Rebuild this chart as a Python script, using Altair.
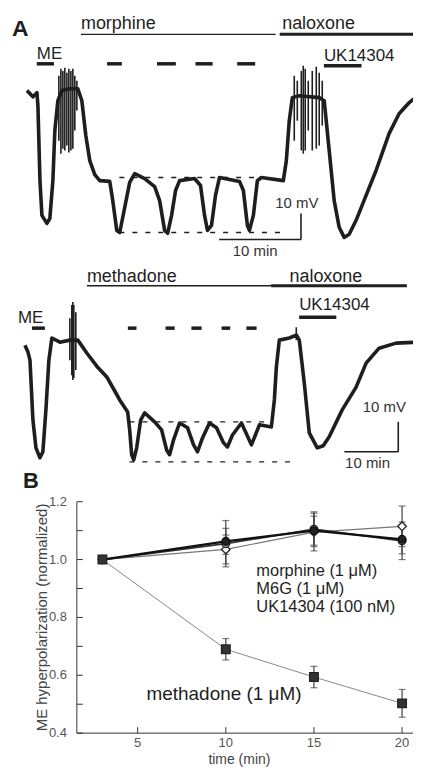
import altair as alt
import pandas as pd

FONT = "Liberation Sans"
INK = "#1e1e1e"

# ================= Panel A, upper trace (morphine), time in min, potential in mV =================
tr1_time = [0.0, 0.73, 1.22, 1.34, 1.59, 1.83, 2.44, 2.80, 3.17, 3.41, 3.78, 4.27, 5.24, 6.22, 6.71,
            7.20, 7.68, 8.29, 8.90, 10.12, 10.49, 10.98, 11.34, 11.83, 12.56, 13.17, 14.39, 15.61,
            16.22, 16.83, 17.20, 17.68, 18.17, 18.66, 20.49, 21.22, 21.71, 22.07, 22.56, 23.05, 23.54,
            25.98, 26.46, 26.95, 27.20, 27.68, 28.17, 28.66, 31.34, 31.71, 32.07, 32.44, 33.29, 35.73,
            36.34, 36.95, 37.56, 38.17, 38.78, 39.39, 40.24, 41.46, 42.68, 44.27, 45.49, 46.71, 48.05]
tr1_mv = [1.2, -1.2, 0.4, -4.6, -33.5, -46.9, -50.0, -48.1, -33.5, -14.2, -2.7, 1.2, 1.9, 1.9, -2.7,
          -16.2, -25.8, -31.2, -33.5, -33.8, -41.2, -52.7, -53.5, -45.8, -34.2, -30.8, -32.7, -35.8,
          -41.2, -52.7, -53.8, -46.9, -37.3, -33.5, -32.7, -35.4, -46.9, -52.7, -50.8, -39.2, -32.3,
          -33.8, -37.3, -50.8, -52.7, -46.9, -33.5, -32.3, -33.5, -25.8, -10.4, -1.5, -0.8, -1.5,
          -2.7, -21.9, -41.2, -51.5, -55.4, -54.2, -48.8, -39.2, -29.6, -15.4, -7.7, -3.5, 0.0]
sp1_time = [3.90, 4.15, 4.39, 4.63, 4.88, 5.12, 5.37, 5.61, 5.85, 6.10,
            32.68, 33.05, 33.54, 33.78, 34.02, 34.39, 34.88, 35.37, 35.73, 36.10]
sp1_top = [6.9, 9.6, 8.8, 10.0, 8.1, 9.6, 8.8, 9.6, 6.9, 5.0,
           6.9, 5.0, 8.8, 10.8, 9.6, 5.0, 8.8, 10.4, 8.1, 5.0]
sp1_bot = [-18.1, -23.1, -21.2, -21.9, -20.0, -22.7, -21.9, -21.2, -14.2, -6.5,
           -18.1, -10.4, -21.9, -23.1, -21.9, -14.2, -21.9, -21.2, -20.0, -12.3]
me1_start = [1.2, 9.8, 15.9, 20.6, 25.7]
me1_end = [3.3, 11.6, 18.2, 22.7, 27.9]
drug1_name = ["morphine", "naloxone"]
drug1_start = [6.6, 30.9]
drug1_end = [30.4, 48.2]
uk1_start = [36.3]
uk1_end = [40.9]
lvl1_mv = [-32.3, -53.5]
lvl1_start = [11.3, 11.3]
lvl1_end = [28.8, 31.7]
sb1_time = [23.5, 33.5]
sb1_mv = [-56.2, -46.2]

# ================= Panel A, lower trace (methadone) =================
tr2_time = [0.0, 0.56, 0.93, 1.48, 2.04, 2.78, 3.33, 3.89, 4.44, 5.0, 6.48, 8.33, 9.81, 11.48, 13.33,
            15.19, 16.67, 17.59, 19.07, 19.44, 19.81, 20.19, 20.74, 21.48, 22.22, 24.07, 25.37, 26.30,
            26.85, 27.59, 28.70, 30.19, 31.30, 32.04, 32.96, 34.26, 35.56, 36.85, 37.59, 38.52, 40.19,
            41.30, 42.04, 42.78, 43.52, 45.74, 46.30, 46.67, 47.22, 49.07, 50.37, 50.93, 51.85, 52.78,
            54.26, 55.37, 56.48, 58.89, 61.48, 63.33, 65.74, 68.89, 72.78]
tr2_mv = [-0.7, -3.0, -5.7, -25.7, -35.0, -38.3, -36.3, -22.3, -5.7, 1.7, 0.3, 1.0, 1.0, -3.3, -7.7,
          -11.3, -16.0, -19.0, -23.0, -29.0, -37.3, -39.0, -35.0, -25.7, -23.3, -26.3, -29.0, -35.7,
          -37.3, -32.3, -26.7, -28.3, -34.0, -36.3, -31.7, -26.7, -28.3, -33.3, -34.7, -30.7, -26.7,
          -31.0, -34.0, -30.7, -27.3, -28.0, -19.0, -8.0, 1.0, 1.7, 2.7, 1.0, -13.3, -30.0,
          -35.0, -34.3, -31.3, -22.3, -14.7, -6.7, -1.7, 0.0, 0.3]
sp2_time = [8.33, 8.70, 8.89, 9.07, 9.44, 50.37]
sp2_top = [8.3, 12.7, 13.7, 12.7, 10.3, 5.3]
sp2_bot = [-5.7, -10.7, -12.3, -11.7, -9.0, 1.0]
me2_start = [1.3, 19.1, 26.1, 30.9, 36.5, 41.1]
me2_end = [3.7, 20.7, 27.8, 32.8, 38.1, 43.0]
drug2_name = ["methadone", "naloxone"]
drug2_start = [11.5, 45.7]
drug2_end = [45.7, 70.9]
uk2_start = [50.9]
uk2_end = [57.8]
lvl2_mv = [-26.3, -39.7]
lvl2_start = [19.4, 19.4]
lvl2_end = [44.8, 49.6]
sb2_time = [59.3, 69.3]
sb2_mv = [-36.3, -26.3]

# ================= Panel B =================
b_time = [3, 10, 15, 20]
methadone_mean = [1.0, 0.69, 0.594, 0.503]
methadone_sem = [0.0, 0.037, 0.037, 0.048]
morphine_mean = [1.0, 1.063, 1.10, 1.07]
morphine_sem = [0.0, 0.045, 0.05, 0.05]
m6g_mean = [1.0, 1.055, 1.105, 1.065]
m6g_sem = [0.0, 0.08, 0.06, 0.065]
uk_mean = [1.0, 1.035, 1.095, 1.115]
uk_sem = [0.0, 0.05, 0.065, 0.07]
y_ticks = [0.4, 0.5, 0.6, 0.7, 0.8, 0.9, 1.0, 1.1, 1.2]
y_labels = [0.4, 0.6, 0.8, 1.0, 1.2]
x_ticks = [5, 10, 15, 20]

# ----------------------------------------------------------------------------------------------
W, HT = 406, 760          # one shared canvas; every panel gets its own scales on it


def trace_layers(xdom, ydom, d, oy):
    X = alt.Scale(domain=xdom, nice=False, zero=False)
    Y = alt.Scale(domain=ydom, nice=False, zero=False)

    def xe(f):
        return alt.X(f, type="quantitative", scale=X, axis=None)

    def ye(f):
        return alt.Y(f, type="quantitative", scale=Y, axis=None)

    L = []
    L.append(alt.Chart(pd.DataFrame({"a": d["lvl_start"], "b": d["lvl_end"], "v": d["lvl_mv"]}))
             .mark_rule(color=INK, strokeWidth=1.3, strokeDash=[5, 8])
             .encode(x=xe("a"), x2="b", y=ye("v")))
    L.append(alt.Chart(pd.DataFrame({"t": d["time"], "v": d["mv"]}))
             .mark_line(color=INK, strokeWidth=3.6, strokeJoin="round", clip=True)
             .encode(x=xe("t"), y=ye("v")))
    L.append(alt.Chart(pd.DataFrame({"t": d["sp_time"], "a": d["sp_top"], "b": d["sp_bot"]}))
             .mark_rule(color=INK, strokeWidth=1.6)
             .encode(x=xe("t"), y=ye("a"), y2="b"))
    sbt, sbv = d["sb_time"], d["sb_mv"]
    L.append(alt.Chart(pd.DataFrame({"a": [sbt[0]], "b": [sbt[1]], "v": [sbv[0]]}))
             .mark_rule(color=INK, strokeWidth=1.6).encode(x=xe("a"), x2="b", y=ye("v")))
    L.append(alt.Chart(pd.DataFrame({"t": [sbt[1]], "a": [sbv[0]], "b": [sbv[1]]}))
             .mark_rule(color=INK, strokeWidth=1.6).encode(x=xe("t"), y=ye("a"), y2="b"))
    L.append(alt.Chart(pd.DataFrame({"t": [d["mv_lab"][0]], "v": [d["mv_lab"][1]], "s": ["10 mV"]}))
             .mark_text(font=FONT, fontSize=15, color="#333", align="center", baseline="middle")
             .encode(x=xe("t"), y=ye("v"), text="s:N"))
    L.append(alt.Chart(pd.DataFrame({"t": [d["min_lab"][0]], "v": [d["min_lab"][1]], "s": ["10 min"]}))
             .mark_text(font=FONT, fontSize=15, color="#333", align="center", baseline="middle")
             .encode(x=xe("t"), y=ye("v"), text="s:N"))
    L.append(alt.Chart(pd.DataFrame({"a": d["drug_start"][:1], "b": d["drug_end"][:1]}))
             .mark_rule(color=INK, strokeWidth=1.3)
             .encode(x=xe("a"), x2="b", y=alt.value(oy + d["drug_y"])))
    L.append(alt.Chart(pd.DataFrame({"a": d["drug_start"][1:], "b": d["drug_end"][1:]}))
             .mark_rule(color=INK, strokeWidth=3, clip=True)
             .encode(x=xe("a"), x2="b", y=alt.value(oy + d["drug_y"])))
    L.append(alt.Chart(pd.DataFrame({"t": [d["drug_start"][0], d["drug_start"][1] + d["nal_shift"]],
                                     "s": d["drug_name"]}))
             .mark_text(font=FONT, fontSize=18, color=INK, align="left", baseline="alphabetic")
             .encode(x=xe("t"), y=alt.value(oy + d["drug_text_y"]), text="s:N"))
    L.append(alt.Chart(pd.DataFrame({"a": d["me_start"], "b": d["me_end"]}))
             .mark_rule(color=INK, strokeWidth=3.5)
             .encode(x=xe("a"), x2="b", y=alt.value(oy + d["me_y"])))
    L.append(alt.Chart(pd.DataFrame({"t": [d["me_text_t"]], "s": ["ME"]}))
             .mark_text(font=FONT, fontSize=17, color=INK, align="left", baseline="alphabetic")
             .encode(x=xe("t"), y=alt.value(oy + d["me_text_y"]), text="s:N"))
    L.append(alt.Chart(pd.DataFrame({"a": d["uk_start"], "b": d["uk_end"]}))
             .mark_rule(color=INK, strokeWidth=3.5)
             .encode(x=xe("a"), x2="b", y=alt.value(oy + d["uk_y"])))
    L.append(alt.Chart(pd.DataFrame({"t": d["uk_start"], "s": ["UK14304"]}))
             .mark_text(font=FONT, fontSize=17, color=INK, align="left", baseline="alphabetic")
             .encode(x=xe("t"), y=alt.value(oy + d["uk_text_y"]), text="s:N"))
    return L


A1 = dict(time=tr1_time, mv=tr1_mv, sp_time=sp1_time, sp_top=sp1_top, sp_bot=sp1_bot,
          lvl_start=lvl1_start, lvl_end=lvl1_end, lvl_mv=lvl1_mv, sb_time=sb1_time, sb_mv=sb1_mv,
          mv_lab=(33.0, -42.0), min_lab=(27.9, -60.6),
          drug_start=drug1_start, drug_end=drug1_end, drug_name=drug1_name, nal_shift=0.3,
          drug_y=25.5, drug_text_y=20, me_start=me1_start, me_end=me1_end, me_y=55,
          me_text_t=1.2, me_text_y=50, uk_start=uk1_start, uk_end=uk1_end, uk_y=57, uk_text_y=52)
A2 = dict(time=tr2_time, mv=tr2_mv, sp_time=sp2_time, sp_top=sp2_top, sp_bot=sp2_bot,
          lvl_start=lvl2_start, lvl_end=lvl2_end, lvl_mv=lvl2_mv, sb_time=sb2_time, sb_mv=sb2_mv,
          mv_lab=(66.7, -21.3), min_lab=(63.6, -40.0),
          drug_start=drug2_start, drug_end=drug2_end, drug_name=drug2_name, nal_shift=3.4,
          drug_y=22.5, drug_text_y=19, me_start=me2_start, me_end=me2_end, me_y=65,
          me_text_t=-1.3, me_text_y=60, uk_start=uk2_start, uk_end=uk2_end, uk_y=54, uk_text_y=47)

# pixel anchors of each panel on the canvas (rest level row and px per min / mV)
a1_x = [-19 / 8.2, (W - 19) / 8.2]
a1_y = [(85 - HT) / 2.6, 85 / 2.6]
a2_x = [-17 / 5.4, (W - 17) / 5.4]
a2_y = [(335 - HT) / 3.0, 335 / 3.0]
layers1 = trace_layers(a1_x, a1_y, A1, 0)
layers1.append(alt.Chart(pd.DataFrame({"s": ["A"]}))
               .mark_text(font=FONT, fontSize=23, fontWeight="bold", color=INK, align="left",
                          baseline="alphabetic")
               .encode(x=alt.value(4), y=alt.value(27), text="s:N"))
panel1 = alt.layer(*layers1)
panel2 = alt.layer(*trace_layers(a2_x, a2_y, A2, 255))

# ---------------- Panel B (axes drawn by hand on the shared canvas) ----------------
B_TOP, B_BOT = 494, 726               # canvas rows of 1.2 and 0.4
b_ppu = (B_BOT - B_TOP) / 0.8
XB_DOM = [-2.357, 20.62]
YB_DOM = [1.2 - (HT - B_TOP) / b_ppu, 1.2 + B_TOP / b_ppu]
X0 = 1.55                              # left end of the x axis (min)
ux = (XB_DOM[1] - XB_DOM[0]) / W
uy = 1 / b_ppu
XB = alt.Scale(domain=XB_DOM, nice=False, zero=False)
YB = alt.Scale(domain=YB_DOM, nice=False, zero=False)


def bx(f):
    return alt.X(f, type="quantitative", scale=XB, axis=None)


def by(f):
    return alt.Y(f, type="quantitative", scale=YB, axis=None)


styles = [
    ("UK14304", uk_mean, uk_sem, "#777", 1.2, "diamond", "white", "#222", 75),
    ("M6G", m6g_mean, m6g_sem, "#333", 1.8, "circle", "#999", "#222", 60),
    ("morphine", morphine_mean, morphine_sem, "#111", 2.2, "circle", "#222", "#111", 60),
    ("methadone", methadone_mean, methadone_sem, "#888", 1.0, "square", "#333", "#222", 75),
]

BL = []
BL.append(alt.Chart(pd.DataFrame({"t": [X0], "a": [0.4], "b": [1.2]}))
          .mark_rule(color="#333", strokeWidth=1).encode(x=bx("t"), y=by("a"), y2="b"))
BL.append(alt.Chart(pd.DataFrame({"a": [X0], "b": [XB_DOM[1]], "y": [0.4]}))
          .mark_rule(color="#333", strokeWidth=1).encode(x=bx("a"), x2="b", y=by("y")))
BL.append(alt.Chart(pd.DataFrame({"y": y_ticks, "a": [X0] * len(y_ticks), "b": [X0 + 6 * ux] * len(y_ticks)}))
          .mark_rule(color="#333", strokeWidth=1).encode(y=by("y"), x=bx("a"), x2="b"))
BL.append(alt.Chart(pd.DataFrame({"t": x_ticks, "a": [0.4] * 4, "b": [0.4 + 6 * uy] * 4}))
          .mark_rule(color="#333", strokeWidth=1).encode(x=bx("t"), y=by("a"), y2="b"))
BL.append(alt.Chart(pd.DataFrame({"y": y_labels, "t": [X0] * len(y_labels),
                                  "s": [f"{v:.1f}" for v in y_labels]}))
          .mark_text(font=FONT, fontSize=13, color="#555", align="right", baseline="middle", dx=-10)
          .encode(x=bx("t"), y=by("y"), text="s:N"))
BL.append(alt.Chart(pd.DataFrame({"t": x_ticks, "y": [0.4] * 4, "s": [str(v) for v in x_ticks]}))
          .mark_text(font=FONT, fontSize=13, color="#555", align="center", baseline="top", dy=4)
          .encode(x=bx("t"), y=by("y"), text="s:N"))
BL.append(alt.Chart(pd.DataFrame({"t": [10.77], "s": ["time (min)"]}))
          .mark_text(font=FONT, fontSize=14, color="#444", align="center", baseline="middle")
          .encode(x=bx("t"), y=alt.value(753), text="s:N"))
BL.append(alt.Chart(pd.DataFrame({"y": [0.8], "s": ["ME hyperpolarization (normalized)"]}))
          .mark_text(font=FONT, fontSize=15, color="#444", align="center", baseline="middle", angle=270)
          .encode(x=alt.value(34), y=by("y"), text="s:N"))

for name, mean, sem, lc, lw, shp, fill, stroke, size in styles:
    df = pd.DataFrame({"t": b_time, "y": mean})
    BL.append(alt.Chart(df).mark_line(color=lc, strokeWidth=lw).encode(x=bx("t"), y=by("y")))
for name, mean, sem, lc, lw, shp, fill, stroke, size in styles:
    df = pd.DataFrame({"t": b_time, "lo": [m - s for m, s in zip(mean, sem)],
                       "hi": [m + s for m, s in zip(mean, sem)], "e": sem})
    df = df[df["e"] > 0]
    BL.append(alt.Chart(df).mark_rule(color="#444", strokeWidth=1.2).encode(x=bx("t"), y=by("lo"), y2="hi"))
    BL.append(alt.Chart(df).mark_tick(color="#444", orient="horizontal", size=7, thickness=1.2)
              .encode(x=bx("t"), y=by("lo")))
    BL.append(alt.Chart(df).mark_tick(color="#444", orient="horizontal", size=7, thickness=1.2)
              .encode(x=bx("t"), y=by("hi")))
for name, mean, sem, lc, lw, shp, fill, stroke, size in styles:
    df = pd.DataFrame({"t": b_time, "y": mean})
    BL.append(alt.Chart(df).mark_point(shape=shp, filled=True, fill=fill, stroke=stroke, strokeWidth=1.3,
                                       size=size, opacity=1)
              .encode(x=bx("t"), y=by("y")))

legend_txt = ["morphine (1 \u03bcM)", "M6G (1 \u03bcM)", "UK14304  (100 nM)"]
legend_y = [0.959, 0.898, 0.836]
BL.append(alt.Chart(pd.DataFrame({"t": [11.73] * 3, "y": legend_y, "s": legend_txt}))
          .mark_text(font=FONT, fontSize=16.5, color=INK, align="left", baseline="middle")
          .encode(x=bx("t"), y=by("y"), text="s:N"))
BL.append(alt.Chart(pd.DataFrame({"t": [5.5], "y": [0.535], "s": ["methadone (1 \u03bcM)"]}))
          .mark_text(font=FONT, fontSize=19, color=INK, align="left", baseline="middle")
          .encode(x=bx("t"), y=by("y"), text="s:N"))
BL.append(alt.Chart(pd.DataFrame({"s": ["B"]}))
          .mark_text(font=FONT, fontSize=22, fontWeight="bold", color=INK, align="left", baseline="middle")
          .encode(x=alt.value(15), y=alt.value(473), text="s:N"))
panelB = alt.layer(*BL)

chart = (alt.layer(panel1, panel2, panelB)
         .resolve_scale(x="independent", y="independent")
         .properties(width=W, height=HT, padding=0, background="white")
         .configure_view(stroke=None))

chart.save("out.html", embed_options={"renderer": "svg", "actions": False})
